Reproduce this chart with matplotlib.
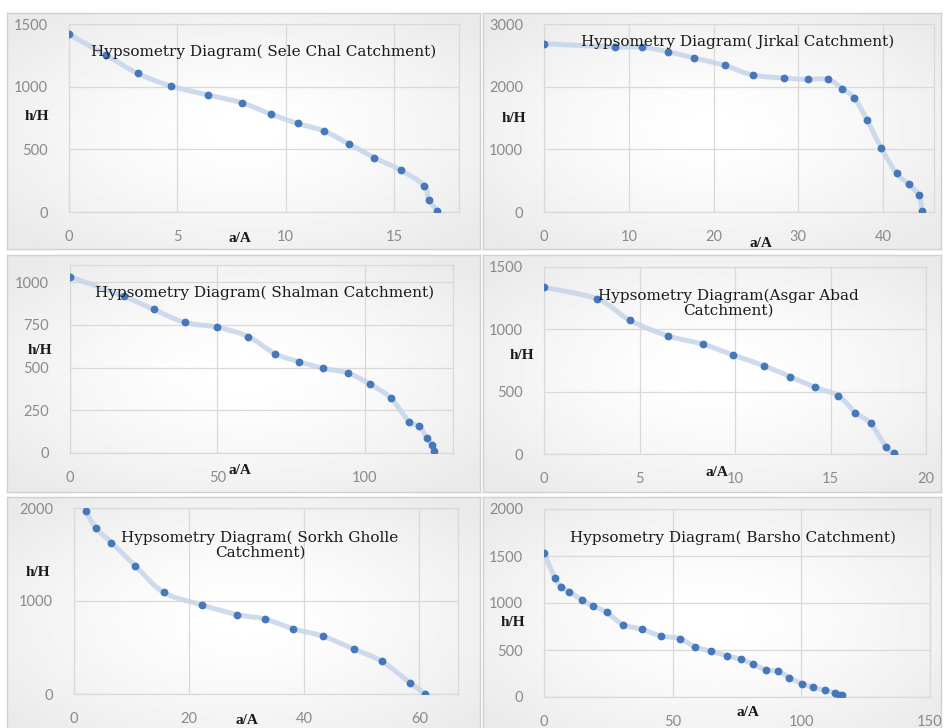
import numpy as np
import matplotlib
matplotlib.use("Agg")
import matplotlib.pyplot as plt
from matplotlib.path import Path
from matplotlib.patches import PathPatch

W, H = 944, 728

# --- data (a/A, h/H) ---
sele_x = [0, 1.7, 3.17, 4.7, 6.43, 8.0, 9.3, 10.55, 11.77, 12.9, 14.1, 15.3, 16.4, 16.6, 17.0]
sele_y = [1418, 1253, 1106, 1005, 933, 870, 782, 707, 646, 545, 433, 335, 210, 98, 11]

jirkal_x = [0, 8.4, 11.5, 14.6, 17.7, 21.3, 24.6, 28.3, 31.1, 33.5, 35.2, 36.6, 38.1, 39.8, 41.6, 43.0, 44.2, 44.6]
jirkal_y = [2686, 2633, 2633, 2559, 2457, 2340, 2186, 2138, 2117, 2117, 1968, 1819, 1468, 1016, 617, 447, 271, 21]

shalman_x = [0, 18.2, 28.4, 38.9, 50.0, 60.5, 69.6, 77.6, 85.9, 94.3, 101.7, 108.8, 115.1, 118.6, 121.2, 122.9, 123.6]
shalman_y = [1031, 917, 840, 764, 736, 681, 581, 535, 496, 468, 404, 323, 183, 156, 85, 49, 10]

asgar_x = [0, 2.8, 4.5, 6.5, 8.3, 9.9, 11.5, 12.9, 14.2, 15.4, 16.3, 17.1, 17.9, 18.3]
asgar_y = [1337, 1243, 1072, 947, 882, 794, 709, 620, 535, 468, 332, 246, 59, 8]

sorkh_x = [2.1, 3.8, 6.5, 10.6, 15.6, 22.2, 28.3, 33.1, 38.0, 43.3, 48.6, 53.5, 58.4, 61.0]
sorkh_y = [1965, 1784, 1629, 1380, 1092, 958, 854, 807, 703, 620, 483, 350, 119, 5]

barsho_x = [0, 4.2, 6.8, 9.8, 14.6, 18.9, 24.3, 30.7, 38.0, 45.4, 52.7, 58.5, 64.8, 71.1, 76.4,
            81.1, 86.2, 91.0, 95.3, 100.4, 104.6, 109.2, 113.0, 114.8, 115.8]
barsho_y = [1535, 1268, 1172, 1119, 1037, 970, 902, 771, 721, 650, 622, 536, 487, 440, 401,
            352, 288, 274, 206, 142, 103, 71, 43, 21, 18]

titles = ["Hypsometry Diagram( Sele Chal Catchment)",
          "Hypsometry Diagram( Jirkal Catchment)",
          "Hypsometry Diagram( Shalman Catchment)",
          "Hypsometry Diagram(Asgar Abad\nCatchment)",
          "Hypsometry Diagram( Sorkh Gholle\nCatchment)",
          "Hypsometry Diagram( Barsho Catchment)"]

xticks = [[0, 5, 10, 15], [0, 10, 20, 30, 40], [0, 50, 100], [0, 5, 10, 15, 20],
          [0, 20, 40, 60], [0, 50, 100, 150]]
yticks = [[0, 500, 1000, 1500], [0, 1000, 2000, 3000], [0, 250, 500, 750, 1000],
          [0, 500, 1000, 1500], [0, 1000, 2000], [0, 500, 1000, 1500, 2000]]
xmax = [18, 46, 130, 20, 66.7, 150]
ymax = [1500, 3000, 1100, 1500, 2000, 2000]

series = [(sele_x, sele_y), (jirkal_x, jirkal_y), (shalman_x, shalman_y),
          (asgar_x, asgar_y), (sorkh_x, sorkh_y), (barsho_x, barsho_y)]

# layout in pixels
plot_boxes = [(69, 24, 459, 212), (544, 24, 934, 212), (70, 265, 453, 453),
              (544, 267, 926, 454), (74, 508, 458, 694), (544, 509, 930, 697)]
panel_boxes = [(7, 13, 480, 249), (483, 13, 941, 249), (7, 255, 480, 492),
               (483, 255, 941, 492), (7, 497, 480, 740), (483, 497, 941, 740)]
title_pos = [(264, 52), (738, 42), (265, 293), (728, 303), (260, 545), (733, 538)]
hlabel_pos = [(37, 117), (514, 119), (40, 350), (522, 355), (38, 573), (513, 622)]
alabel_pos = [(240, 239), (761, 244), (240, 471), (717, 472), (247, 720), (748, 712)]

LINE_C = "#c6d5ea"
DOT_C = "#4677b8"
GRID_C = "#d9d9d9"
TICK_C = "#8a8a8a"


def fx(px):
    return px / W


def fy(py):
    return 1 - py / H


def smooth_path(x, y):
    # Excel-like smoothed line: cubic bezier through the points
    pts = np.column_stack([x, y]).astype(float)
    n = len(pts)
    verts = [pts[0]]
    codes = [Path.MOVETO]
    for i in range(n - 1):
        p0 = pts[i - 1] if i > 0 else pts[i]
        p1, p2 = pts[i], pts[i + 1]
        p3 = pts[i + 2] if i + 2 < n else pts[i + 1]
        c1 = p1 + (p2 - p0) / 6.0
        c2 = p2 - (p3 - p1) / 6.0
        verts += [c1, c2, p2]
        codes += [Path.CURVE4] * 3
    return Path(verts, codes)


fig = plt.figure(figsize=(W / 100, H / 100), dpi=100)
fig.patch.set_facecolor("white")

# radial gradient for the chart areas
gy, gx = np.mgrid[-1:1:200j, -1:1:300j]
grad = 1.0 - 0.085 * np.clip(np.sqrt(gx ** 2 + gy ** 2) / 1.3, 0, 1) ** 1.5

for i in range(6):
    l, t, r, b = panel_boxes[i]
    bg = fig.add_axes([fx(l), fy(b), fx(r - l), (b - t) / H], zorder=0)
    bg.imshow(grad, cmap="gray", vmin=0, vmax=1, aspect="auto", extent=(0, 1, 0, 1))
    bg.set_xticks([])
    bg.set_yticks([])
    for s in bg.spines.values():
        s.set_color("#d0d0d0")
        s.set_linewidth(1.0)

    l, t, r, b = plot_boxes[i]
    ax = fig.add_axes([fx(l), fy(b), fx(r - l), (b - t) / H], zorder=1)
    ax.patch.set_alpha(0)
    x, y = series[i]
    ax.add_patch(PathPatch(smooth_path(x, y), facecolor="none", edgecolor=LINE_C,
                           lw=3.6, alpha=0.85, capstyle="round", zorder=2))
    ax.plot(x, y, "o", color=DOT_C, ms=4.6, zorder=3)
    ax.set_xlim(0, xmax[i])
    ax.set_ylim(0, ymax[i])
    ax.set_xticks(xticks[i])
    ax.set_yticks(yticks[i])
    ax.grid(True, color=GRID_C, lw=0.9)
    ax.set_axisbelow(True)
    ax.tick_params(length=0, labelcolor=TICK_C, labelsize=10.5)
    ax.tick_params(axis="y", pad=15)
    ax.tick_params(axis="x", pad=13)
    for lab in ax.get_xticklabels() + ax.get_yticklabels():
        lab.set_fontfamily("Lato")
    for s in ax.spines.values():
        s.set_color(GRID_C)
        s.set_linewidth(0.9)

    tx, ty = title_pos[i]
    fig.text(fx(tx), fy(ty), titles[i], ha="center", va="center", family="DejaVu Serif",
             fontsize=11, color="#1a1a1a", linespacing=1.05, zorder=5)
    hx, hy = hlabel_pos[i]
    fig.text(fx(hx), fy(hy), "h/H", ha="center", va="center", family="Liberation Serif",
             fontweight="bold", fontsize=11, color="#1a1a1a", zorder=5)
    axx, axy = alabel_pos[i]
    fig.text(fx(axx), fy(axy), "a/A", ha="center", va="center", family="Liberation Serif",
             fontweight="bold", fontsize=11, color="#1a1a1a", zorder=5)

fig.savefig("out.png", dpi=100)
